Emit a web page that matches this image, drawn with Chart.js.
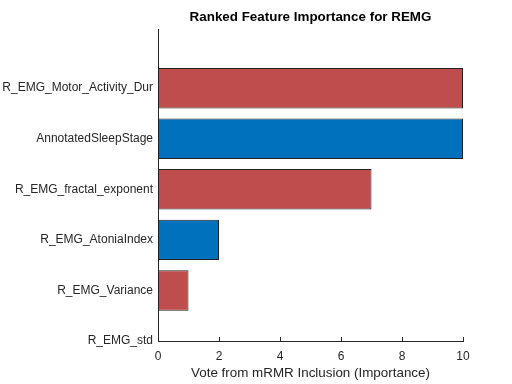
<!DOCTYPE html>
<html>
<head>
<meta charset="utf-8">
<script src="https://cdn.jsdelivr.net/npm/chart.js@4"></script>
<style>
  html, body { margin: 0; padding: 0; background: #fff; }
  #wrap { width: 512px; height: 384px; }
</style>
</head>
<body>
<div id="wrap"><canvas id="myChart" width="512" height="384"></canvas></div>
<script>
// bottom to top, same order as the picture read upwards
const features = ['R_EMG_std', 'R_EMG_Variance', 'R_EMG_AtoniaIndex', 'R_EMG_fractal_exponent', 'AnnotatedSleepStage', 'R_EMG_Motor_Activity_Dur'];
const votes = [0, 1, 2, 7, 10, 10];
const positions = [0, 1, 2, 3, 4, 5];
const xTicks = [0, 2, 4, 6, 8, 10];

const red = 'rgb(191,77,77)';
const blue = 'rgb(0,114,189)';
const barColors = positions.map((p, i) => i % 2 === 0 ? blue : red);

const chartTitle = 'Ranked Feature Importance for REMG';
const xTitle = 'Vote from mRMR Inclusion (Importance)';

// title centred over the plot box, plus inward tick marks like matlab
const matlabBits = {
    id: 'matlabBits',
    afterDraw(chart) {
        const ctx = chart.ctx;
        const area = chart.chartArea;
        const xs = chart.scales.x;
        ctx.save();
        ctx.strokeStyle = '#262626';
        ctx.lineWidth = 1;
        xTicks.forEach((t) => {
            let px = Math.round(xs.getPixelForValue(t)) + 0.5;
            ctx.beginPath();
            ctx.moveTo(px, area.bottom);
            ctx.lineTo(px, area.bottom - 4);
            ctx.stroke();
        });
        ctx.fillStyle = '#000';
        ctx.font = 'bold 13.4px "Liberation Sans", Arial, sans-serif';
        ctx.textAlign = 'center';
        ctx.textBaseline = 'middle';
        ctx.fillText(chartTitle, (area.left + area.right) / 2, 17);
        ctx.restore();
    }
};

const ctx = document.getElementById('myChart');

new Chart(ctx, {
    type: 'bar',
    data: {
        datasets: [{
            data: positions.map((p, i) => ({ x: votes[i], y: p })),
            backgroundColor: barColors,
            borderColor: '#222',
            borderWidth: 1,
            borderSkipped: false,
            barPercentage: 0.8,
            categoryPercentage: 1
        }]
    },
    options: {
        indexAxis: 'y',
        responsive: false,
        animation: false,
        layout: { padding: { top: 29, right: 49, left: 0, bottom: 0 } },
        plugins: {
            legend: { display: false },
            tooltip: { enabled: false },
            title: { display: false }
        },
        scales: {
            x: {
                type: 'linear',
                min: 0,
                max: 10,
                afterBuildTicks: (scale) => { scale.ticks = xTicks.map((v) => ({ value: v })) },
                ticks: {
                    color: '#262626',
                    font: { family: '"Liberation Sans", Arial, sans-serif', size: 12 },
                    padding: 8,
                    maxRotation: 0
                },
                grid: { display: false, drawTicks: false },
                border: { display: true, color: '#262626', width: 1 },
                title: {
                    display: true,
                    text: xTitle,
                    color: '#262626',
                    font: { family: '"Liberation Sans", Arial, sans-serif', size: 13.4 },
                    padding: { top: 0, bottom: 3 }
                },
                afterFit: (scale) => { scale.height = 43 }
            },
            y: {
                type: 'linear',
                min: 0,
                max: 6.17,
                offset: false,
                afterBuildTicks: (scale) => { scale.ticks = positions.map((v) => ({ value: v })) },
                ticks: {
                    color: '#262626',
                    font: { family: '"Liberation Sans", Arial, sans-serif', size: 12 },
                    padding: 5,
                    callback: (v) => features[positions.indexOf(v)] || ''
                },
                grid: { display: false, drawTicks: false },
                border: { display: true, color: '#262626', width: 1 },
                afterFit: (scale) => { scale.width = 158 }
            }
        }
    },
    plugins: [matlabBits]
});
</script>
</body>
</html>
